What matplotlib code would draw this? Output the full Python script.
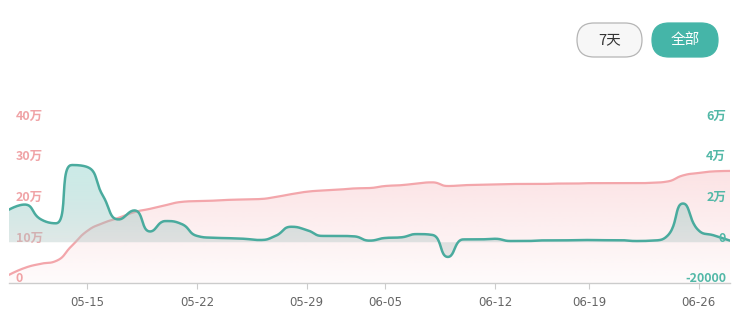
import numpy as np
import matplotlib
matplotlib.use("Agg")
import matplotlib.pyplot as plt
from matplotlib.patches import Polygon, FancyBboxPatch
from matplotlib.transforms import offset_copy, IdentityTransform

plt.rcParams['font.family'] = ['Noto Sans CJK SC', 'DejaVu Sans']

# categories (some days are missing in the source data)
dates = ["05-10", "05-11", "05-12", "05-13", "05-14", "05-15", "05-16", "05-17",
         "05-18", "05-19", "05-20", "05-21", "05-22", "05-23", "05-24", "05-25",
         "05-26", "05-27", "05-28", "05-29", "05-30", "05-31", "06-02", "06-04",
         "06-05", "06-06", "06-07", "06-08", "06-09", "06-10", "06-11", "06-12",
         "06-13", "06-14", "06-15", "06-17", "06-18", "06-19", "06-20", "06-21",
         "06-22", "06-23", "06-24", "06-25", "06-26", "06-27", "06-28"]
shown_dates = ["05-15", "05-22", "05-29", "06-05", "06-12", "06-19", "06-26"]

# cumulative total (left axis, pink)
total = [20000, 37000, 47000, 54000, 91000, 128000, 147000, 160000, 174000, 182000,
         191000, 199000, 201000, 202000, 204000, 205000, 206000, 211000, 218000, 224000,
         227000, 229000, 232000, 233000, 238000, 240000, 244000, 247000, 238000, 240000,
         241000, 242000, 243000, 243000, 243000, 244000, 244000, 245000, 245000, 245000,
         245000, 246000, 249000, 264000, 270000, 274000, 275000]

# daily change (right axis, green)
daily = [16000, 18500, 11400, 9300, 37900, 36900, 22700, 11200, 15600, 5300,
         10400, 9000, 3100, 2200, 2000, 1700, 1100, 3100, 7600, 6000,
         3100, 3100, 2900, 800, 2100, 2400, 4000, 3600, -7200, 1400,
         1400, 1700, 600, 600, 900, 900, 1000, 1100, 1000, 1000,
         600, 800, 3100, 19000, 5800, 3300, 800]

left_ticks = [0, 100000, 200000, 300000, 400000]
left_labels = ["0", "10万", "20万", "30万", "40万"]
right_ticks = [-20000, 0, 20000, 40000, 60000]
right_labels = ["-20000", "0", "2万", "4万", "6万"]

PINK = "#f3a6ab"
GREEN = "#4aab9e"
TEAL_BTN = "#45b5a8"


def smooth_line(xs, ys, kx, ky, smooth=0.5, n=24):
    # echarts-like bezier smoothing with constraint, done in pixel space
    p = np.column_stack([np.asarray(xs, float) * kx, np.asarray(ys, float) * ky])
    N = len(p)
    cin = p.copy()
    cout = p.copy()
    for i in range(1, N - 1):
        prev, cur, nxt = p[i - 1], p[i], p[i + 1]
        v = nxt - prev
        d0 = np.hypot(*(cur - prev))
        d1 = np.hypot(*(nxt - cur))
        r = d1 / (d0 + d1)
        co = cur + v * smooth * r
        co = np.minimum(co, np.maximum(nxt, cur))
        co = np.maximum(co, np.minimum(nxt, cur))
        ci = cur - (co - cur) * d0 / d1
        ci = np.minimum(ci, np.maximum(prev, cur))
        ci = np.maximum(ci, np.minimum(prev, cur))
        co = cur + (cur - ci) * d1 / d0
        cin[i] = ci
        cout[i] = co
    t = np.linspace(0, 1, n)[:, None]
    out = [p[:1]]
    for i in range(N - 1):
        P0, P1, P2, P3 = p[i], cout[i], cin[i + 1], p[i + 1]
        seg = ((1 - t) ** 3) * P0 + 3 * ((1 - t) ** 2) * t * P1 + 3 * (1 - t) * t ** 2 * P2 + t ** 3 * P3
        out.append(seg[1:])
    out = np.vstack(out)
    return out[:, 0] / kx, out[:, 1] / ky


def grad_fill(axis, xs, ys, base, c_top, c_bot, z):
    poly = np.vstack([[xs[0], base], np.column_stack([xs, ys]), [xs[-1], base]])
    patch = Polygon(poly, closed=True, facecolor="none", edgecolor="none")
    axis.add_patch(patch)
    ymax = max(ys.max(), base)
    ymin = min(ys.min(), base)
    f = np.linspace(0, 1, 256)[:, None]
    img = (1 - f) * np.array(c_top) + f * np.array(c_bot)
    img = img[:, None, :]
    im = axis.imshow(img, extent=[xs.min(), xs.max(), ymin, ymax], origin="upper",
                     aspect="auto", zorder=z, interpolation="bilinear")
    im.set_clip_path(patch)


fig = plt.figure(figsize=(7.38, 3.14), dpi=100)
ax = fig.add_axes([9 / 738, 31 / 314, 721 / 738, 163 / 314])
ax2 = ax.twinx()

idx = np.arange(len(dates))
kx = 721 / (len(dates) - 1)

px, py = smooth_line(idx, total, kx, 163 / 400000)
grad_fill(ax, px, py, 0, (244 / 255, 160 / 255, 166 / 255, 0.30),
          (244 / 255, 160 / 255, 166 / 255, 0.04), 1)
ax.plot(px, py, color=PINK, lw=1.6, zorder=3, solid_capstyle="round")

gx, gy = smooth_line(idx, daily, kx, 163 / 80000)
grad_fill(ax2, gx, gy, 0, (60 / 255, 179 / 255, 166 / 255, 0.26),
          (205 / 255, 205 / 255, 205 / 255, 0.45), 1)
ax2.plot(gx, gy, color=GREEN, lw=1.8, zorder=3, solid_capstyle="round")

ax.set_xlim(0, len(dates) - 1)
ax.set_ylim(0, 400000)
ax2.set_xlim(0, len(dates) - 1)
ax2.set_ylim(-20000, 60000)

for a in (ax, ax2):
    for s in ("top", "left", "right"):
        a.spines[s].set_visible(False)
    a.set_yticks([])
    a.patch.set_visible(False)
ax2.spines["bottom"].set_visible(False)
ax.spines["bottom"].set_color("#cccccc")
ax.spines["bottom"].set_linewidth(1)

tick_pos = [dates.index(d) for d in shown_dates]
ax.set_xticks(tick_pos)
ax.set_xticklabels(shown_dates, fontsize=8.5, color="#666666", family=["DejaVu Sans"])
ax.tick_params(axis="x", length=4, color="#cccccc", pad=5)

ltr = offset_copy(ax.get_yaxis_transform(), fig=fig, x=0, y=4, units="dots")
for v, lab in zip(left_ticks, left_labels):
    ax.text(7 / 721, v, lab, transform=ltr, fontsize=9, fontweight="bold",
            color="#f0a3a6", ha="left", va="center", zorder=5)
rtr = offset_copy(ax2.get_yaxis_transform(), fig=fig, x=0, y=4, units="dots")
for v, lab in zip(right_ticks, right_labels):
    ax2.text(717 / 721, v, lab, transform=rtr, fontsize=9, fontweight="bold",
             color="#52b8a7", ha="right", va="center", zorder=5)

# range buttons (pixel coords, origin bottom-left)
b1 = FancyBboxPatch((577, 257), 65, 34, boxstyle="round,pad=0,rounding_size=17",
                    transform=IdentityTransform(), facecolor="#f7f7f7",
                    edgecolor="#b5b5b5", lw=0.9)
b2 = FancyBboxPatch((652, 257), 66, 34, boxstyle="round,pad=0,rounding_size=17",
                    transform=IdentityTransform(), facecolor=TEAL_BTN, edgecolor=TEAL_BTN, lw=0.9)
fig.patches.extend([b1, b2])
fig.text(609.5 / 738, 274 / 314, "7天", fontsize=10.5, color="#333333", ha="center", va="center")
fig.text(685 / 738, 274 / 314, "全部", fontsize=10.5, color="white", ha="center", va="center")

fig.savefig("out.png", dpi=100)
